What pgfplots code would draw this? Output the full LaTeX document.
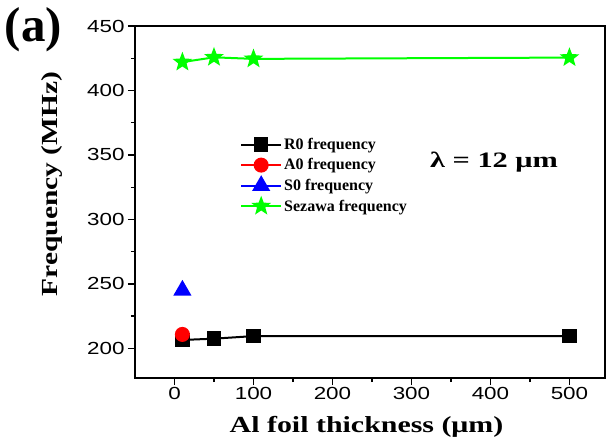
\documentclass[border=0pt]{standalone}
\usepackage{pgfplots}
\pgfplotsset{compat=1.18}
\usepackage{graphicx}
\usepackage{fontspec}
\setmainfont{Liberation Serif}
\newfontfamily\arial{Liberation Sans}
\definecolor{cgreen}{RGB}{0,255,0}
\definecolor{cred}{RGB}{255,0,0}
\definecolor{cblue}{RGB}{0,0,255}
\pgfdeclareplotmark{fstar}{%
  \pgfpathmoveto{\pgfpointpolar{90}{\pgfplotmarksize}}%
  \pgfpathlineto{\pgfpointpolar{126}{0.42\pgfplotmarksize}}%
  \pgfpathlineto{\pgfpointpolar{162}{\pgfplotmarksize}}%
  \pgfpathlineto{\pgfpointpolar{198}{0.42\pgfplotmarksize}}%
  \pgfpathlineto{\pgfpointpolar{234}{\pgfplotmarksize}}%
  \pgfpathlineto{\pgfpointpolar{270}{0.42\pgfplotmarksize}}%
  \pgfpathlineto{\pgfpointpolar{306}{\pgfplotmarksize}}%
  \pgfpathlineto{\pgfpointpolar{342}{0.42\pgfplotmarksize}}%
  \pgfpathlineto{\pgfpointpolar{18}{\pgfplotmarksize}}%
  \pgfpathlineto{\pgfpointpolar{54}{0.42\pgfplotmarksize}}%
  \pgfpathclose\pgfusepathqfillstroke}
\begin{document}
\begin{tikzpicture}
\begin{axis}[
  name=ax,
  scale only axis,
  width=470pt, height=352pt,
  xmin=-50, xmax=545, ymin=177, ymax=450,
  xtick={0,100,...,500}, ytick={200,250,...,450},
  minor x tick num=1, minor y tick num=1,
  tick pos=left, tick align=outside,
  major tick length=7pt, minor tick length=4pt,
  every tick/.style={black, line width=1.3pt},
  axis line style={line width=1.6pt},
  /pgf/number format/assume math mode=true,
  ticklabel style={font=\arial\fontsize{17.5}{17.5}\selectfont},
  xticklabel={\scalebox{1.28}[1]{\pgfmathprintnumber{\tick}}},
  yticklabel={\scalebox{1.28}[1]{\pgfmathprintnumber{\tick}}},
  xticklabel style={yshift=1pt},
  xlabel={\scalebox{1.3}[1]{\textbf{Al foil thickness (μm)}}},
  ylabel={\scalebox{1.28}[1]{\textbf{Frequency (MHz)}}},
  xlabel style={font=\fontsize{23}{23}\selectfont, at={(axis description cs:0.4926,-0.138)}, anchor=center},
  ylabel style={font=\fontsize{23}{23}\selectfont, at={(axis description cs:-0.177,0.551)}, anchor=center},
  clip=false,
  legend style={draw=none, fill=none, at={(0.217,0.693)}, anchor=north west,
    font=\bfseries\fontsize{16}{16}\selectfont, row sep=3.7pt,
    legend cell align=left},
  legend image code/.code={%
    \draw[mark repeat=2,mark phase=2,line width=2pt,#1] plot coordinates {(0pt,0pt) (20pt,0pt) (40pt,0pt)};},
]
\addplot[black, line width=2pt, mark=square*, mark size=6.2pt, mark options={solid}]
  coordinates {(10,206.5) (50,207.5) (100,209.5) (500,209.5)};
\addlegendentry{R0 frequency}
\addplot[cred, line width=2pt, mark=*, mark size=6.5pt]
  coordinates {(10,210.8)};
\addlegendentry{A0 frequency}
\addplot[cblue, line width=2pt, mark=triangle*, mark size=8.5pt]
  coordinates {(10,245)};
\addlegendentry{S0 frequency}
\addplot[cgreen, line width=2pt, mark=fstar, mark size=7.5pt]
  coordinates {(10,422) (50,425.7) (100,424.5) (500,425.5)};
\addlegendentry{Sezawa frequency}
\node[font=\bfseries\fontsize{22}{22}\selectfont, anchor=center] at (axis description cs:0.764,0.612) {\scalebox{1.38}[1]{λ = 12 μm}};
\node[font=\bfseries\fontsize{49}{49}\selectfont, anchor=center] at ([xshift=-101.5pt,yshift=-4pt]rel axis cs:0,1) {(a)};
\end{axis}
\pgfresetboundingbox
\path[use as bounding box] ([xshift=-135pt,yshift=26pt]ax.north west) rectangle ([xshift=5pt,yshift=-64pt]ax.south east);
\end{tikzpicture}
\end{document}
